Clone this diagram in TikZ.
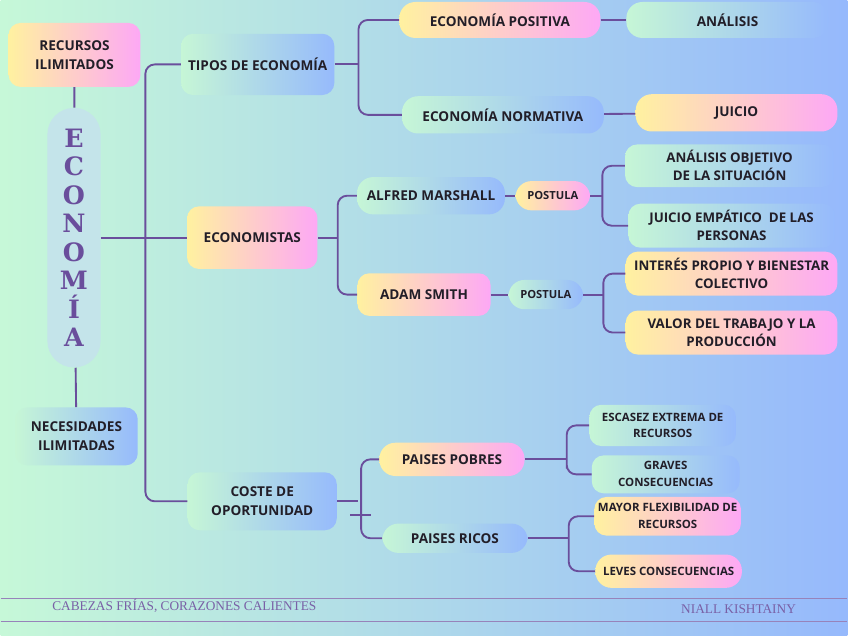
\documentclass[tikz,border=0pt]{standalone}
\usepackage{fontspec}
\setmainfont{Open Sans}
\newfontfamily\slabfont{DejaVu Serif}
\newfontfamily\capfont{Liberation Serif}
\usepackage{xcolor}
\usepackage{tikz}
\usetikzlibrary{positioning}

\definecolor{bgL}{RGB}{198,248,216}
\definecolor{bgM}{RGB}{178,222,232}
\definecolor{bgR}{RGB}{150,185,252}
\definecolor{ylw}{RGB}{255,241,160}
\definecolor{pnk}{RGB}{253,168,245}
\definecolor{mnt}{RGB}{198,246,214}
\definecolor{sky}{RGB}{150,186,252}
\definecolor{colfill}{RGB}{196,228,234}
\definecolor{plum}{RGB}{106,78,156}
\definecolor{ink}{RGB}{34,30,40}

\begin{document}
\begin{tikzpicture}[
    x=0.75pt, y=-0.75pt,
    box/.style={rounded corners=9pt, align=center, text=ink, inner sep=2pt,
        font=\fontsize{10.2}{14}\selectfont\bfseries},
    warm/.style={box, left color=ylw, right color=pnk},
    cool/.style={box, left color=mnt, right color=sky},
    pill/.style={rounded corners=12pt},
    leaf/.style={font=\fontsize{10}{13.5}\selectfont\bfseries},
    tiny/.style={font=\fontsize{8.6}{12.75}\selectfont\bfseries},
    tag/.style={font=\fontsize{8.4}{10}\selectfont\bfseries},
    column/.style={fill=colfill, rounded corners=20pt, minimum width=40pt,
        minimum height=195pt, align=center, text=plum,
        font=\slabfont\fontsize{19}{21.4}\selectfont\bfseries},
    link/.style={draw=plum, line width=1.4pt, rounded corners=7pt},
    rule/.style={draw=plum!70, line width=0.9pt},
    foot/.style={text=plum!90, font=\capfont\fontsize{10}{12}\selectfont},
]
\shade[left color=bgL, middle color=bgM, right color=bgR] (0,0) rectangle (848,636);

% left column
\node[warm, minimum width=99pt, minimum height=48pt] (rec) at (74,55) {RECURSOS\\ILIMITADOS};
\node[column] (eco) at (73.5,238) {E\\C\\O\\N\\O\\M\\Í\\A};
\node[cool, minimum width=92pt, minimum height=43.5pt] (nec) at (76,437) {NECESIDADES\\ILIMITADAS};

% main branches
\node[cool, minimum width=115pt, minimum height=46pt] (tipos) at (257.5,64.5) {TIPOS DE ECONOMÍA};
\node[warm, minimum width=98pt, minimum height=47pt] (ecst) at (252,238) {ECONOMISTAS};
\node[cool, minimum width=112pt, minimum height=43.5pt] (coste) at (262,502) {COSTE DE\\OPORTUNIDAD};

% tipos de economia
\node[warm, pill, minimum width=151pt, minimum height=27pt] (pos) at (500,20) {ECONOMÍA POSITIVA};
\node[cool, pill, minimum width=152pt, minimum height=27pt] (anal) at (728,20) {ANÁLISIS};
\node[cool, pill, minimum width=151.5pt, minimum height=28pt] (norm) at (503,115) {ECONOMÍA NORMATIVA};
\node[warm, pill, minimum width=151.5pt, minimum height=28pt] (juicio) at (737,113) {JUICIO};

% economistas
\node[cool, pill, minimum width=111pt, minimum height=28pt] (alfred) at (431,196) {ALFRED MARSHALL};
\node[warm, pill, tag, minimum width=56pt, minimum height=22pt] (post1) at (553,196) {POSTULA};
\node[cool, leaf, minimum width=157pt, minimum height=32pt] (anobj) at (730,166) {ANÁLISIS OBJETIVO\\DE LA SITUACIÓN};
\node[cool, leaf, minimum width=155pt, minimum height=33pt] (juemp) at (732,226) {JUICIO EMPÁTICO\ \ DE LAS\\PERSONAS};
\node[warm, minimum width=100pt, minimum height=32pt] (adam) at (424,295) {ADAM SMITH};
\node[cool, pill, tag, minimum width=56pt, minimum height=22pt] (post2) at (546,295) {POSTULA};
\node[warm, leaf, minimum width=159pt, minimum height=33pt] (inter) at (732,274) {INTERÉS PROPIO Y BIENESTAR\\COLECTIVO};
\node[warm, leaf, minimum width=159pt, minimum height=33pt] (valor) at (732,333) {VALOR DEL TRABAJO Y LA\\PRODUCCIÓN};

% coste de oportunidad
\node[warm, pill, minimum width=109pt, minimum height=25pt] (pobres) at (452,460) {PAISES POBRES};
\node[cool, pill, minimum width=109pt, minimum height=22pt] (ricos) at (455,539) {PAISES RICOS};
\node[cool, tiny, minimum width=110pt, minimum height=31pt] (escasez) at (663,426) {ESCASEZ EXTREMA DE\\RECURSOS};
\node[cool, tiny, minimum width=111pt, minimum height=28.5pt] (graves) at (666,475) {GRAVES\\CONSECUENCIAS};
\node[warm, tiny, minimum width=110pt, minimum height=29pt] (mayor) at (668,517) {MAYOR FLEXIBILIDAD DE\\RECURSOS};
\node[warm, pill, tiny, minimum width=110pt, minimum height=25pt] (leves) at (669,572) {LEVES CONSECUENCIAS};

% connectors
\draw[link] (rec) -- (eco);
\draw[link] (eco) -- (nec);
\draw[link] (eco.east) -- (ecst.west);
\draw[link] (tipos.west) -| (145,300) |- (coste.west);

\draw[link] (tipos.east) -- ++(24,0) coordinate (tj);
\draw[link] (pos.west) -| (tj) |- (norm.west);
\draw[link] (pos) -- (anal);
\draw[link] (norm) -- (juicio);

\draw[link] (ecst.east) -- ++(20,0) coordinate (ej);
\draw[link] (alfred.west) -| (ej) |- (adam.west);
\draw[link] (alfred) -- (post1);
\draw[link] (post1.east) -- ++(12,0) coordinate (mj);
\draw[link] (anobj.west) -| (mj) |- (juemp.west);
\draw[link] (adam) -- (post2);
\draw[link] (post2.east) -- ++(20,0) coordinate (sj);
\draw[link] (inter.west) -| (sj) |- (valor.west);

\draw[link] (coste.east) -- ++(21,0) coordinate (cj);
\coordinate (ca) at (350,516);
\coordinate (cb) at (371,516);
\draw[link] (ca) -- (cb);
\draw[link] (pobres.west) -| (361,500) |- (ricos.west);
\draw[link] (pobres.east) -- ++(42,0) coordinate (pj);
\draw[link] (escasez.west) -| (pj) |- (graves.west);
\draw[link] (ricos.east) -- ++(41,0) coordinate (rj);
\draw[link] (mayor.west) -| (rj) |- (leves.west);

% footer
\draw[rule] (0,599) -- (848,599);
\draw[rule] (0,622) -- (848,622);
\node[foot] (lema) at (184,607) {CABEZAS FRÍAS, CORAZONES CALIENTES};
\node[foot] (autor) at (739,610) {NIALL KISHTAINY};
\end{tikzpicture}
\end{document}
